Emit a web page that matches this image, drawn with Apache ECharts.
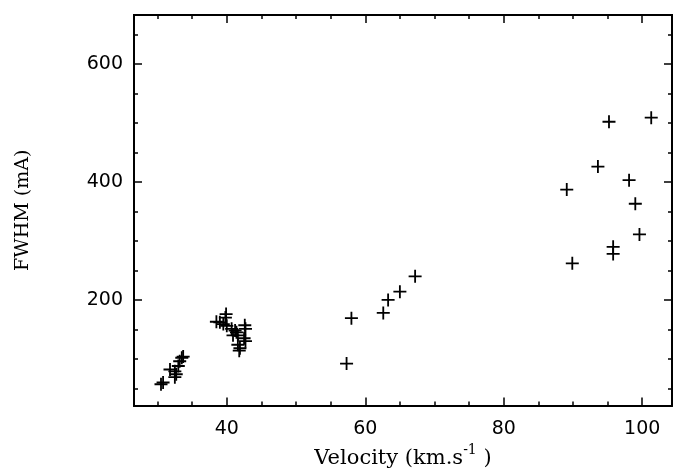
<!DOCTYPE html>
<html><head><meta charset="utf-8">
<script src="https://cdn.jsdelivr.net/npm/echarts@6/dist/echarts.min.js"></script>
<style>html,body{margin:0;padding:0;background:#fff}#c{width:675px;height:474px}</style>
</head><body><div id="c"></div>
<script>
const velocity = [30.5,30.8,31.8,32.5,32.7,33.0,33.2,33.5,33.7,32.5,
  38.5,39.0,39.5,39.8,39.9,40.0,40.7,40.9,41.2,41.4,41.6,41.6,41.9,41.8,42.6,42.7,42.5,42.7,
  57.3,58.0,62.6,63.3,65.0,67.2,
  89.1,89.9,93.6,95.2,95.8,95.8,98.1,99.0,99.6,101.3];
const fwhm = [57,60,82,79,74,88,96,102,104,69,
  163,162,159,170,176,156,151,140,148,145,140,124,118,114,157,151,135,130,
  92,169,178,200,214,240,
  387,262,426,502,290,278,403,363,311,509];
const xMajor = [40,60,80,100];
const xMinor = [30,35,45,50,55,65,70,75,85,90,95,105];
const yMajor = [200,400,600];
const yMinor = [50,100,150,250,300,350,450,500,550,650];

const plus = 'path://M4.3,0H5.7V4.3H10V5.7H5.7V10H4.3V5.7H0V4.3H4.3Z';
const pts = velocity.map((v,i)=>[v,fwhm[i]]);
const X0=26.6, X1=104.3, Y0=21, Y1=683;
const lbl = {fontFamily:'DejaVu Sans', fontSize:19, color:'#000'};
function xa(pos, vals, len, showLbl, name){
  return {type:'value', min:X0, max:X1, position:pos,
    axisLine:{show:true, onZero:false, lineStyle:{color:'#000', width:2}},
    axisTick:{show:true, inside:true, length:len, customValues:vals, lineStyle:{color:'#000', width:1.5}},
    axisLabel:showLbl?Object.assign({show:true, customValues:vals, margin:14}, lbl):{show:false},
    splitLine:{show:false},
    name:name||'', nameLocation:'middle', nameGap:38,
    nameTextStyle:{fontFamily:'DejaVu Serif', fontSize:21, color:'#000',
      rich:{sup:{fontFamily:'DejaVu Serif', fontSize:14, color:'#000', verticalAlign:'top', padding:[0,0,16,0]}}}};
}
function ya(pos, vals, len, showLbl, name){
  return {type:'value', min:Y0, max:Y1, position:pos,
    axisLine:{show:true, onZero:false, lineStyle:{color:'#000', width:2}},
    axisTick:{show:true, inside:true, length:len, customValues:vals, lineStyle:{color:'#000', width:1.5}},
    axisLabel:showLbl?Object.assign({show:true, customValues:vals, margin:11}, lbl):{show:false},
    splitLine:{show:false},
    name:name||'', nameLocation:'middle', nameGap:101,
    nameTextStyle:{fontFamily:'DejaVu Serif', fontSize:19, color:'#000'}};
}
const chart = echarts.init(document.getElementById('c'), null, {renderer:'canvas'});
chart.setOption({
  animation:false,
  backgroundColor:'#fff',
  grid:{left:134, right:3, top:15, bottom:59, containLabel:false},
  xAxis:[
    xa('bottom', xMajor, 8, true, 'Velocity (km.s{sup|-1} )'),
    xa('bottom', xMinor, 4, false),
    xa('top', xMajor, 8, false),
    xa('top', xMinor, 4, false)
  ],
  yAxis:[
    ya('left', yMajor, 8, true, 'FWHM (mA)'),
    ya('left', yMinor, 4, false),
    ya('right', yMajor, 8, false),
    ya('right', yMinor, 4, false)
  ],
  series:[{type:'scatter', xAxisIndex:0, yAxisIndex:0, data:pts,
    symbol:plus, symbolSize:13, itemStyle:{color:'#000', opacity:1}}]
});
</script></body></html>
